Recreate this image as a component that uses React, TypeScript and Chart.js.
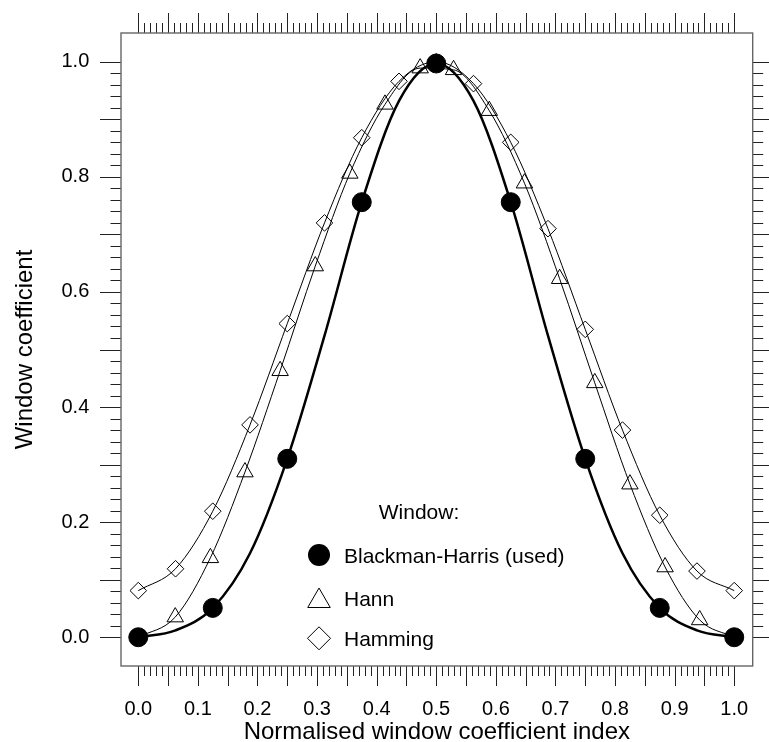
import React, { useEffect, useRef } from 'react';
import { Chart, registerables } from 'chart.js';

Chart.register(...registerables);

const FONT = '"Liberation Sans", Arial, Helvetica, sans-serif';

// ---- Data ----
// Blackman-Harris markers
const bhX = [0, 0.125, 0.25, 0.375, 0.5, 0.625, 0.75, 0.875, 1.0];
const bhY = [0.0, 0.051, 0.31, 0.756, 0.997, 0.756, 0.31, 0.051, 0.0];
// Blackman-Harris curve
const bhCurveX = [0, 0.0625, 0.125, 0.1875, 0.25, 0.3125, 0.375, 0.4375, 0.5, 0.5625, 0.625, 0.6875, 0.75, 0.8125, 0.875, 0.9375, 1];
const bhCurveY = [0, 0.012, 0.051, 0.146, 0.31, 0.524, 0.756, 0.932, 0.997, 0.932, 0.756, 0.524, 0.31, 0.146, 0.051, 0.012, 0];

// Hann markers
const hannX = [0.062, 0.121, 0.179, 0.238, 0.297, 0.355, 0.414, 0.473, 0.529, 0.589, 0.648, 0.707, 0.766, 0.825, 0.884, 0.942];
const hannY = [0.035, 0.138, 0.287, 0.463, 0.645, 0.806, 0.926, 0.989, 0.986, 0.915, 0.789, 0.623, 0.442, 0.266, 0.122, 0.03];
// Hann curve
const hannCurveX = [0, ...hannX, 1];
const hannCurveY = [0, ...hannY, 0];

// Hamming markers
const hammingX = [0, 0.0625, 0.125, 0.1875, 0.25, 0.3125, 0.375, 0.4375, 0.5, 0.5625, 0.625, 0.6875, 0.75, 0.8125, 0.875, 0.9375, 1];
const hammingY = [0.081, 0.119, 0.219, 0.369, 0.545, 0.72, 0.868, 0.966, 1.0, 0.962, 0.86, 0.71, 0.535, 0.36, 0.212, 0.115, 0.081];

// Axes
const xTickValues = [0, 0.1, 0.2, 0.3, 0.4, 0.5, 0.6, 0.7, 0.8, 0.9, 1.0];
const xTickLabels = ['0.0', '0.1', '0.2', '0.3', '0.4', '0.5', '0.6', '0.7', '0.8', '0.9', '1.0'];
const yTickValues = [0, 0.2, 0.4, 0.6, 0.8, 1.0];
const yTickLabels = ['0.0', '0.2', '0.4', '0.6', '0.8', '1.0'];
const xTitle = 'Normalised window coefficient index';
const yTitle = 'Window coefficient';
const legendTitle = 'Window:';
const seriesNames = ['Blackman-Harris (used)', 'Hann', 'Hamming'];

const zip = (xs: number[], ys: number[]) => xs.map((x, i) => ({ x, y: ys[i] }));

const framePlugin = {
  id: 'frameTicks',
  afterDraw(chart: any) {
    const { ctx, chartArea } = chart;
    const { left, right, top, bottom } = chartArea;
    const xs = chart.scales.x;
    const ys = chart.scales.y;
    ctx.save();
    ctx.strokeStyle = '#222';
    ctx.lineWidth = 1;
    ctx.beginPath();
    for (let i = 0; i <= 100; i++) {
      const px = Math.round(xs.getPixelForValue(i / 100)) + 0.5;
      const major = i % 5 === 0;
      const len = major ? 20 : 10;
      ctx.moveTo(px, bottom);
      ctx.lineTo(px, bottom + len);
      ctx.moveTo(px, top);
      ctx.lineTo(px, top - len);
    }
    for (let i = 0; i <= 50; i++) {
      const py = Math.round(ys.getPixelForValue(i / 50)) + 0.5;
      const major = i % 5 === 0;
      ctx.moveTo(left, py);
      ctx.lineTo(left - (major ? 21 : 10.5), py);
      ctx.moveTo(right, py);
      ctx.lineTo(right + (major ? 17 : 10.5), py);
    }
    ctx.stroke();
    ctx.strokeStyle = '#666';
    ctx.lineWidth = 1.4;
    ctx.strokeRect(left, top, right - left, bottom - top);
    ctx.restore();
  },
};

const legendPlugin = {
  id: 'windowLegend',
  afterDraw(chart: any) {
    const ctx = chart.ctx;
    ctx.save();
    ctx.fillStyle = '#000';
    ctx.strokeStyle = '#000';
    ctx.font = `21px ${FONT}`;
    ctx.textBaseline = 'alphabetic';
    ctx.textAlign = 'center';
    ctx.fillText(legendTitle, 419, 519.3);
    ctx.textAlign = 'left';
    const baselines = [562.7, 605.7, 646];
    seriesNames.forEach((n, i) => ctx.fillText(n, 344, baselines[i]));
    const mx = 319;
    ctx.beginPath();
    ctx.arc(mx, 555, 11, 0, Math.PI * 2);
    ctx.fill();
    ctx.lineWidth = 1;
    const r = 13;
    const cy = 601;
    ctx.beginPath();
    ctx.moveTo(mx, cy - r);
    ctx.lineTo(mx + r * Math.sin(Math.PI / 3), cy + r / 2);
    ctx.lineTo(mx - r * Math.sin(Math.PI / 3), cy + r / 2);
    ctx.closePath();
    ctx.stroke();
    const d = 11.5;
    const dy = 638.3;
    ctx.beginPath();
    ctx.moveTo(mx - d, dy);
    ctx.lineTo(mx, dy - d);
    ctx.lineTo(mx + d, dy);
    ctx.lineTo(mx, dy + d);
    ctx.closePath();
    ctx.stroke();
    ctx.restore();
  },
};

const zeroPad = (s: any) => {
  s.paddingTop = 0;
  s.paddingBottom = 0;
  s.paddingLeft = 0;
  s.paddingRight = 0;
};

export default function App() {
  const ref = useRef<HTMLCanvasElement | null>(null);

  useEffect(() => {
    if (!ref.current) return;
    const chart = new Chart(ref.current, {
      type: 'scatter',
      data: {
        datasets: [
          {
            label: seriesNames[0],
            data: zip(bhX, bhY),
            pointStyle: 'circle',
            pointRadius: 9.5,
            backgroundColor: '#000',
            borderColor: '#000',
            borderWidth: 1,
            showLine: false,
          },
          {
            label: seriesNames[1],
            data: zip(hannX, hannY),
            pointStyle: 'triangle',
            pointRadius: 9.5,
            backgroundColor: 'rgba(0,0,0,0)',
            borderColor: '#000',
            borderWidth: 1,
            showLine: false,
          },
          {
            label: seriesNames[2],
            data: zip(hammingX, hammingY),
            pointStyle: 'rectRot',
            pointRadius: 8.3,
            backgroundColor: 'rgba(0,0,0,0)',
            borderColor: '#000',
            borderWidth: 1,
            showLine: false,
          },
          {
            label: seriesNames[0] + ' curve',
            data: zip(bhCurveX, bhCurveY),
            showLine: true,
            pointRadius: 0,
            borderColor: '#000',
            borderWidth: 2.5,
            cubicInterpolationMode: 'monotone',
            fill: false,
          },
          {
            label: seriesNames[1] + ' curve',
            data: zip(hannCurveX, hannCurveY),
            showLine: true,
            pointRadius: 0,
            borderColor: '#000',
            borderWidth: 1,
            cubicInterpolationMode: 'monotone',
            fill: false,
          },
          {
            label: seriesNames[2] + ' curve',
            data: zip(hammingX, hammingY),
            showLine: true,
            pointRadius: 0,
            borderColor: '#000',
            borderWidth: 1,
            cubicInterpolationMode: 'monotone',
            fill: false,
          },
        ],
      },
      options: {
        animation: false,
        responsive: false,
        devicePixelRatio: 1,
        layout: { padding: { top: 33, right: 16.3, left: 0, bottom: 0 } },
        plugins: {
          legend: { display: false },
          tooltip: { enabled: false },
        },
        scales: {
          x: {
            type: 'linear',
            position: 'bottom',
            min: -0.029,
            max: 1.031,
            grid: { display: false, drawTicks: false },
            border: { display: false },
            afterBuildTicks: (s: any) => {
              s.ticks = xTickValues.map((v) => ({ value: v }));
            },
            afterFit: (s: any) => {
              s.height = 76;
              zeroPad(s);
            },
            ticks: {
              autoSkip: false,
              maxRotation: 0,
              padding: 31.8,
              color: '#000',
              font: { family: FONT, size: 20 },
              callback: (_v: any, i: number) => xTickLabels[i],
            },
            title: {
              display: true,
              text: xTitle,
              color: '#000',
              font: { family: FONT, size: 24 },
              padding: { top: 0, bottom: -5 },
            },
          },
          y: {
            type: 'linear',
            position: 'left',
            min: -0.05,
            max: 1.05,
            grid: { display: false, drawTicks: false },
            border: { display: false },
            afterBuildTicks: (s: any) => {
              s.ticks = yTickValues.map((v) => ({ value: v }));
            },
            afterFit: (s: any) => {
              s.width = 121;
              zeroPad(s);
            },
            ticks: {
              autoSkip: false,
              padding: 31.7,
              color: '#000',
              font: { family: FONT, size: 20 },
              callback: (_v: any, i: number) => yTickLabels[i],
            },
            title: {
              display: true,
              text: yTitle,
              color: '#000',
              font: { family: FONT, size: 24 },
              padding: { top: 11, bottom: 0 },
            },
          },
        },
      },
      plugins: [framePlugin, legendPlugin],
    });
    return () => chart.destroy();
  }, []);

  return (
    <div style={{ position: 'absolute', left: 0, top: 0, width: 769, height: 742, background: '#fff' }}>
      <canvas ref={ref} width={769} height={742} style={{ display: 'block', width: 769, height: 742 }} />
    </div>
  );
}
